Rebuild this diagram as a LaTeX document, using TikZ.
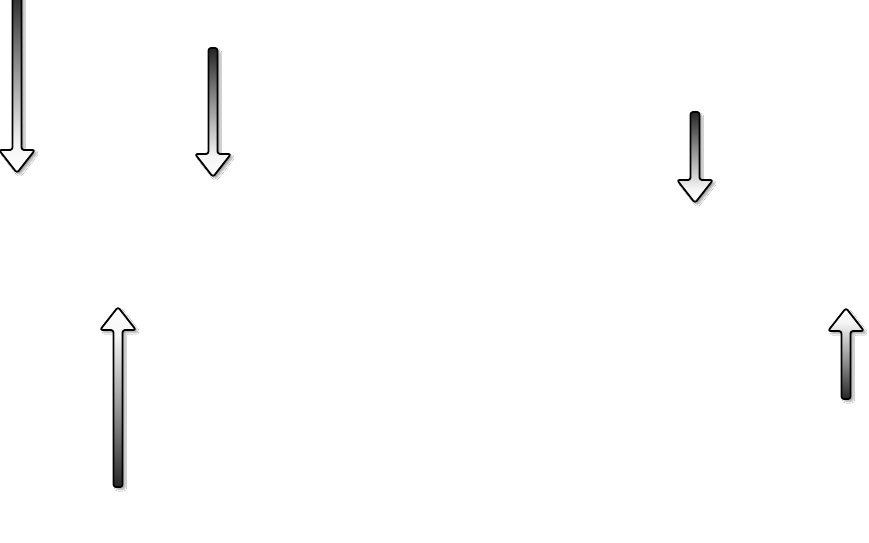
\documentclass[tikz,border=0pt]{standalone}
\usetikzlibrary{shadows.blur}
\pgfdeclareverticalshading{arrowdownshade}{100bp}{color(0bp)=(white); color(25bp)=(white); color(33bp)=(white!96!black); color(55bp)=(black!45); color(75bp)=(black!85); color(100bp)=(black!85)}
\pgfdeclareverticalshading{arrowupshade}{100bp}{color(0bp)=(black!85); color(25bp)=(black!85); color(45bp)=(black!45); color(67bp)=(white!96!black); color(75bp)=(white); color(100bp)=(white)}
\tikzset{
  arrowbody/.style={draw=black, line width=1.8pt, rounded corners=2.5pt, line join=round,
    blur shadow={shadow xshift=2.5pt, shadow yshift=-2.5pt, shadow blur steps=6, shadow opacity=35}},
  downshade/.style={shading=arrowdownshade},
  upshade/.style={shading=arrowupshade}
}
% #1 x, #2 tail y (pixels, down), #3 tip y, #4 dir (+1 down, -1 up), #5 shading style
\newcommand\sketcharrow[5]{%
  \path[arrowbody,#5]
    ({#1-4.5},{542-(#2)}) -- ({#1-4.5},{542-(#3-(#4)*23)}) -- ({#1-18},{542-(#3-(#4)*23)})
    -- ({#1},{542-(#3)}) -- ({#1+18},{542-(#3-(#4)*23)}) -- ({#1+4.5},{542-(#3-(#4)*23)})
    -- ({#1+4.5},{542-(#2)}) -- cycle;}
\begin{document}
\begin{tikzpicture}[x=1pt,y=1pt]
\useasboundingbox (0,0) rectangle (869,542);
\fill[white] (0,0) rectangle (869,542);
\begin{scope}
\clip (0,0) rectangle (869,542);
\sketcharrow{17}{-10}{173}{1}{downshade}
\sketcharrow{213}{48}{177}{1}{downshade}
\sketcharrow{695}{112}{203}{1}{downshade}
\sketcharrow{118}{487}{307}{-1}{upshade}
\sketcharrow{846}{399}{308}{-1}{upshade}
\end{scope}
\end{tikzpicture}
\end{document}
